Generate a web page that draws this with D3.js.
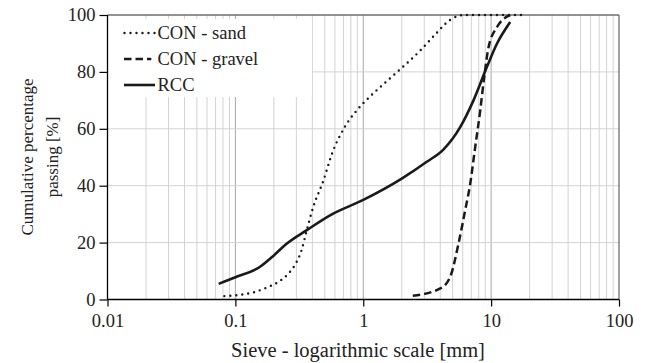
<!DOCTYPE html>
<html><head><meta charset="utf-8">
<script src="https://cdn.jsdelivr.net/npm/d3@7"></script>
<style>
html,body{margin:0;padding:0;background:#fff;}
svg{display:block;font-family:"Liberation Serif","Times New Roman",serif;}
</style></head>
<body>
<svg id="chart" width="645" height="363"></svg>
<script>
// ---- data ----
const sandX = [0.082, 0.11, 0.138, 0.176, 0.224, 0.268, 0.30, 0.33, 0.36, 0.407, 0.489, 0.568, 0.709, 0.891, 1.17, 1.72, 2.79, 3.66, 4.79, 6.08, 17.4];
const sandY = [1.2, 1.7, 2.5, 4.2, 6.6, 9.8, 13, 17.5, 24, 32.6, 41.9, 51.1, 60.3, 66.5, 72, 78.8, 87.5, 93.2, 98.3, 100, 100];
const gravelX = [2.44, 4.0, 4.79, 5.56, 6.27, 6.87, 7.45, 8.22, 8.83, 9.55, 11.1, 14.1];
const gravelY = [1.3, 3.9, 8, 19.7, 31.4, 40.8, 52.5, 66.5, 78.2, 88.7, 95.7, 100];
const rccX = [0.074, 0.1, 0.156, 0.2, 0.25, 0.362, 0.55, 1.0, 2.0, 3.14, 4.25, 5.73, 7.28, 9.26, 11.1, 14.1];
const rccY = [5.5, 7.8, 11.5, 15.5, 19.5, 24.4, 29.6, 35, 42.5, 48.4, 52.8, 60.6, 70, 81.7, 89.9, 97.5];
const seriesNames = ["CON - sand", "CON - gravel", "RCC"];
const xTicks = [0.01, 0.1, 1, 10, 100];
const xTickLabels = ["0.01", "0.1", "1", "10", "100"];
const yTicks = [0, 20, 40, 60, 80, 100];
const xLabel = "Sieve - logarithmic scale [mm]";
const yLabelLines = ["Cumulative percentage", "passing [%]"];

// ---- layout ----
const W = 645, H = 363;
const m = {left: 107.5, right: 26, top: 15, bottom: 63.5};
const svg = d3.select("#chart");
const x = d3.scaleLog().domain([0.01, 100]).range([m.left, W - m.right]);
const y = d3.scaleLinear().domain([0, 100]).range([H - m.bottom, m.top]);

// grid
const minor = [];
[0.01, 0.1, 1, 10].forEach(d => { for (let k = 2; k <= 9; k++) minor.push(d * k); });
const g = svg.append("g");
g.selectAll(".vmin").data(minor).join("line")
  .attr("x1", d => x(d)).attr("x2", d => x(d))
  .attr("y1", y(0)).attr("y2", y(100))
  .attr("stroke", "#d3d3d3").attr("stroke-width", 1);
g.selectAll(".vmaj").data([0.1, 1, 10]).join("line")
  .attr("x1", d => x(d)).attr("x2", d => x(d))
  .attr("y1", y(0)).attr("y2", y(100))
  .attr("stroke", "#a8a8a8").attr("stroke-width", 1);
g.selectAll(".hg").data([20, 40, 60, 80]).join("line")
  .attr("x1", x(0.01)).attr("x2", x(100))
  .attr("y1", d => y(d)).attr("y2", d => y(d))
  .attr("stroke", "#d3d3d3").attr("stroke-width", 1);
// top and right border
g.append("line").attr("x1", x(0.01)).attr("x2", x(100)).attr("y1", y(100)).attr("y2", y(100))
  .attr("stroke", "#6e6e6e").attr("stroke-width", 1.3);
g.append("line").attr("x1", x(100)).attr("x2", x(100)).attr("y1", y(0)).attr("y2", y(100))
  .attr("stroke", "#6e6e6e").attr("stroke-width", 1.3);

// legend background
svg.append("rect").attr("x", x(0.01) + 1).attr("y", 19).attr("width", 312 - x(0.01) - 1).attr("height", 78)
  .attr("fill", "#fff");

// axes
const fs = 18.5;
const yAxis = svg.append("g").attr("transform", `translate(${x(0.01)},0)`)
  .call(d3.axisLeft(y).tickValues(yTicks).tickSize(8).tickPadding(4).tickFormat(d3.format("d")));
const xAxis = svg.append("g").attr("transform", `translate(0,${y(0)})`)
  .call(d3.axisBottom(x).tickValues(xTicks).tickSize(7).tickPadding(7).tickFormat((d, i) => xTickLabels[i]));
[yAxis, xAxis].forEach(a => {
  a.select(".domain").attr("stroke", "#000").attr("stroke-width", 1.3);
  a.selectAll(".tick line").attr("stroke", "#000").attr("stroke-width", 1.2);
  a.selectAll(".tick text").attr("fill", "#222").style("font-size", fs + "px")
    .style("font-family", '"Liberation Serif","Times New Roman",serif');
});
xAxis.select(".domain").attr("d", `M${x(0.01)},0H${x(100)}`);
yAxis.select(".domain").attr("d", `M0,${y(0)}V${y(100)}`);

// curves
const line = d3.line().x(d => x(d[0])).y(d => y(d[1])).curve(d3.curveMonotoneX);
const zip = (a, b) => a.map((v, i) => [v, b[i]]);
const styles = [
  {dash: "0,6", width: 2.4, cap: "round"},
  {dash: "7.5,4", width: 2.5, cap: "butt"},
  {dash: null, width: 2.6, cap: "butt"}
];
const data = [zip(sandX, sandY), zip(gravelX, gravelY), zip(rccX, rccY)];
data.forEach((d, i) => {
  svg.append("path").datum(d).attr("d", line).attr("fill", "none")
    .attr("stroke", "#1a1a1a").attr("stroke-width", styles[i].width)
    .attr("stroke-linecap", styles[i].cap)
    .attr("stroke-dasharray", styles[i].dash);
});

// legend
const lg = svg.append("g");
seriesNames.forEach((name, i) => {
  const yy = 33 + i * 26;
  lg.append("line").attr("x1", i === 0 ? 124.5 : 124).attr("x2", i === 0 ? 156 : (i === 1 ? 151 : 155)).attr("y1", yy).attr("y2", yy)
    .attr("stroke", "#1a1a1a").attr("stroke-width", styles[i].width)
    .attr("stroke-linecap", styles[i].cap).attr("stroke-dasharray", styles[i].dash);
  if (i === 1) lg.append("circle").attr("cx", 150.5).attr("cy", yy).attr("r", 1.1).attr("fill", "#1a1a1a");
  lg.append("text").attr("x", 157.5).attr("y", yy).attr("dy", "0.35em")
    .style("font-size", fs + "px").attr("fill", "#222").text(name);
});

// axis titles
svg.append("text").attr("x", 358).attr("y", 357).attr("text-anchor", "middle")
  .style("font-size", "20.5px").attr("fill", "#222").text(xLabel);
yLabelLines.forEach((t, i) => {
  svg.append("text").attr("transform", `translate(${27 + i * 25},${157}) rotate(-90)`)
    .attr("text-anchor", "middle").attr("dy", "0.35em")
    .style("font-size", "17px").attr("fill", "#222").text(t);
});
</script>
</body></html>
